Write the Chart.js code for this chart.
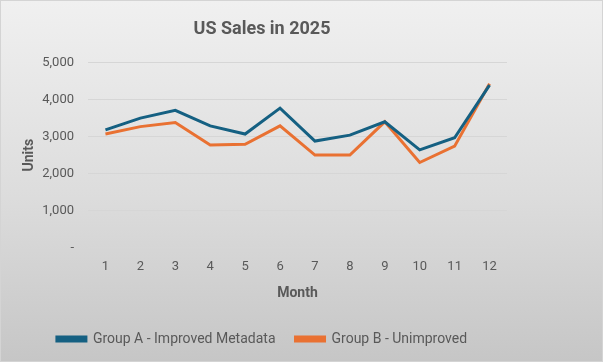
<!DOCTYPE html>
<html>
<head>
<meta charset="utf-8">
<script src="https://cdn.jsdelivr.net/npm/chart.js@4"></script>
<style>
  html, body { margin: 0; padding: 0; }
  body { width: 603px; height: 362px; overflow: hidden; }
  .wrap {
    position: relative; width: 601px; height: 360px;
    border: 1px solid #d4d4d4;
    background: linear-gradient(to bottom, #f0f0f0 0%, #dcdcdc 55%, #c6c6c6 100%);
  }
  canvas { display: block; }
</style>
</head>
<body>
<div class="wrap"><canvas id="chart" width="601" height="360"></canvas></div>
<script>
// Dados do gráfico
const months = ["1", "2", "3", "4", "5", "6", "7", "8", "9", "10", "11", "12"];
const groupA = [3180, 3500, 3710, 3290, 3070, 3770, 2880, 3040, 3400, 2640, 2970, 4390];
const groupB = [3070, 3270, 3380, 2770, 2790, 3290, 2500, 2500, 3400, 2300, 2740, 4430];
const yTicks = [0, 1000, 2000, 3000, 4000, 5000];

const FONT = "Roboto, 'Open Sans', sans-serif";
const GREY = "#595959";

// título e legenda centrados um pouco à esquerda, como no original
const shiftPlugin = {
    id: "shiftText",
    afterLayout(chart) {
        if (chart.titleBlock) { chart.titleBlock.left = 0; chart.titleBlock.right = 522; }
        if (chart.legend) { chart.legend.left = 0; chart.legend.right = 522; }
    }
};

new Chart(document.getElementById("chart"), {
    type: "line",
    data: {
        labels: months,
        datasets: [
            {
                label: "Group A - Improved Metadata",
                data: groupA,
                borderColor: "#156082",
                backgroundColor: "#156082",
                borderWidth: 3,
                pointRadius: 0,
                tension: 0
            },
            {
                label: "Group B - Unimproved",
                data: groupB,
                borderColor: "#E97132",
                backgroundColor: "#E97132",
                borderWidth: 3,
                pointRadius: 0,
                tension: 0
            }
        ]
    },
    options: {
        responsive: false,
        animation: false,
        layout: { padding: { left: 0, right: 95, top: 0, bottom: 5 } },
        scales: {
            x: {
                offset: true,
                grid: { display: false, drawTicks: false },
                border: { display: false },
                ticks: { color: GREY, font: { family: FONT, size: 13 }, padding: 11 },
                title: { display: true, text: "Month", color: GREY, font: { family: FONT, size: 14, weight: "bold" }, padding: { top: 0, bottom: 10 } }
            },
            y: {
                min: 0,
                max: 5000,
                afterBuildTicks: axis => { axis.ticks = yTicks.map(v => ({ value: v })); },
                afterFit: axis => { axis.width = 87; },
                grid: { color: "#d6d6d6", lineWidth: 1, drawTicks: false },
                border: { display: false },
                ticks: {
                    color: GREY,
                    font: { family: FONT, size: 13 },
                    padding: 14,
                    callback: v => v === 0 ? "-" : v.toLocaleString("en-US")
                },
                title: { display: true, text: "Units", color: GREY, font: { family: FONT, size: 14, weight: "bold" }, padding: { top: 20, bottom: 0 } }
            }
        },
        plugins: {
            title: {
                display: true,
                text: "US Sales in 2025",
                color: GREY,
                font: { family: FONT, size: 18, weight: "bold" },
                padding: { top: 18, bottom: 22 }
            },
            legend: {
                position: "bottom",
                labels: {
                    color: GREY,
                    font: { family: FONT, size: 14 },
                    boxWidth: 29,
                    boxHeight: 4,
                    padding: 20
                }
            },
            tooltip: { enabled: false }
        }
    },
    plugins: [shiftPlugin]
});
</script>
</body>
</html>
